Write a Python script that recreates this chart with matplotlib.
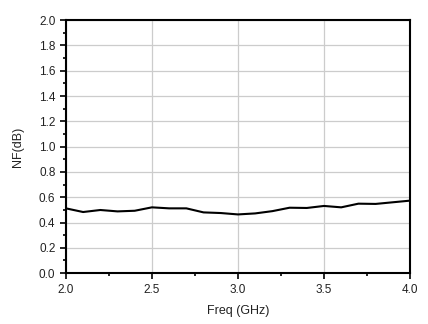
import numpy as np
import matplotlib.pyplot as plt

plt.rcParams['font.family'] = ['Liberation Sans', 'DejaVu Sans']

freq = [2.0, 2.1, 2.2, 2.3, 2.4, 2.5, 2.6, 2.7, 2.8, 2.9, 3.0,
        3.1, 3.2, 3.3, 3.4, 3.5, 3.6, 3.7, 3.8, 3.9, 4.0]
nf = [0.512, 0.483, 0.499, 0.488, 0.493, 0.520, 0.512, 0.512, 0.480, 0.475, 0.464,
      0.472, 0.490, 0.517, 0.515, 0.531, 0.520, 0.549, 0.547, 0.560, 0.573]

fig = plt.figure(figsize=(4.28, 3.24), dpi=100)
ax = fig.add_axes([0.154, 0.157, 0.804, 0.781])

ax.plot(freq, nf, color='black', lw=1.5)

ax.set_xlim(2.0, 4.0)
ax.set_ylim(0.0, 2.0)
ax.set_xticks(np.arange(2.0, 4.01, 0.5))
ax.set_xticks(np.arange(2.0, 4.01, 0.25), minor=True)
ax.set_yticks(np.arange(0.0, 2.01, 0.2))
ax.set_yticks(np.arange(0.0, 2.01, 0.1), minor=True)
ax.xaxis.set_major_formatter(plt.FormatStrFormatter('%.1f'))
ax.yaxis.set_major_formatter(plt.FormatStrFormatter('%.1f'))

ax.grid(True, which='major', color='#cccccc', lw=0.9)
ax.set_axisbelow(True)
ax.tick_params(which='both', direction='out', labelsize=8.5, width=1.2,
               colors='black', labelcolor='#222222')
ax.tick_params(which='major', length=4)
ax.tick_params(which='minor', length=2.5)
for s in ax.spines.values():
    s.set_linewidth(1.5)

ax.set_xlabel('Freq (GHz)', fontsize=9, labelpad=7, color='#222222')
ax.set_ylabel('NF(dB)', fontsize=9, labelpad=11, color='#222222')

fig.savefig('out.png', dpi=100)
